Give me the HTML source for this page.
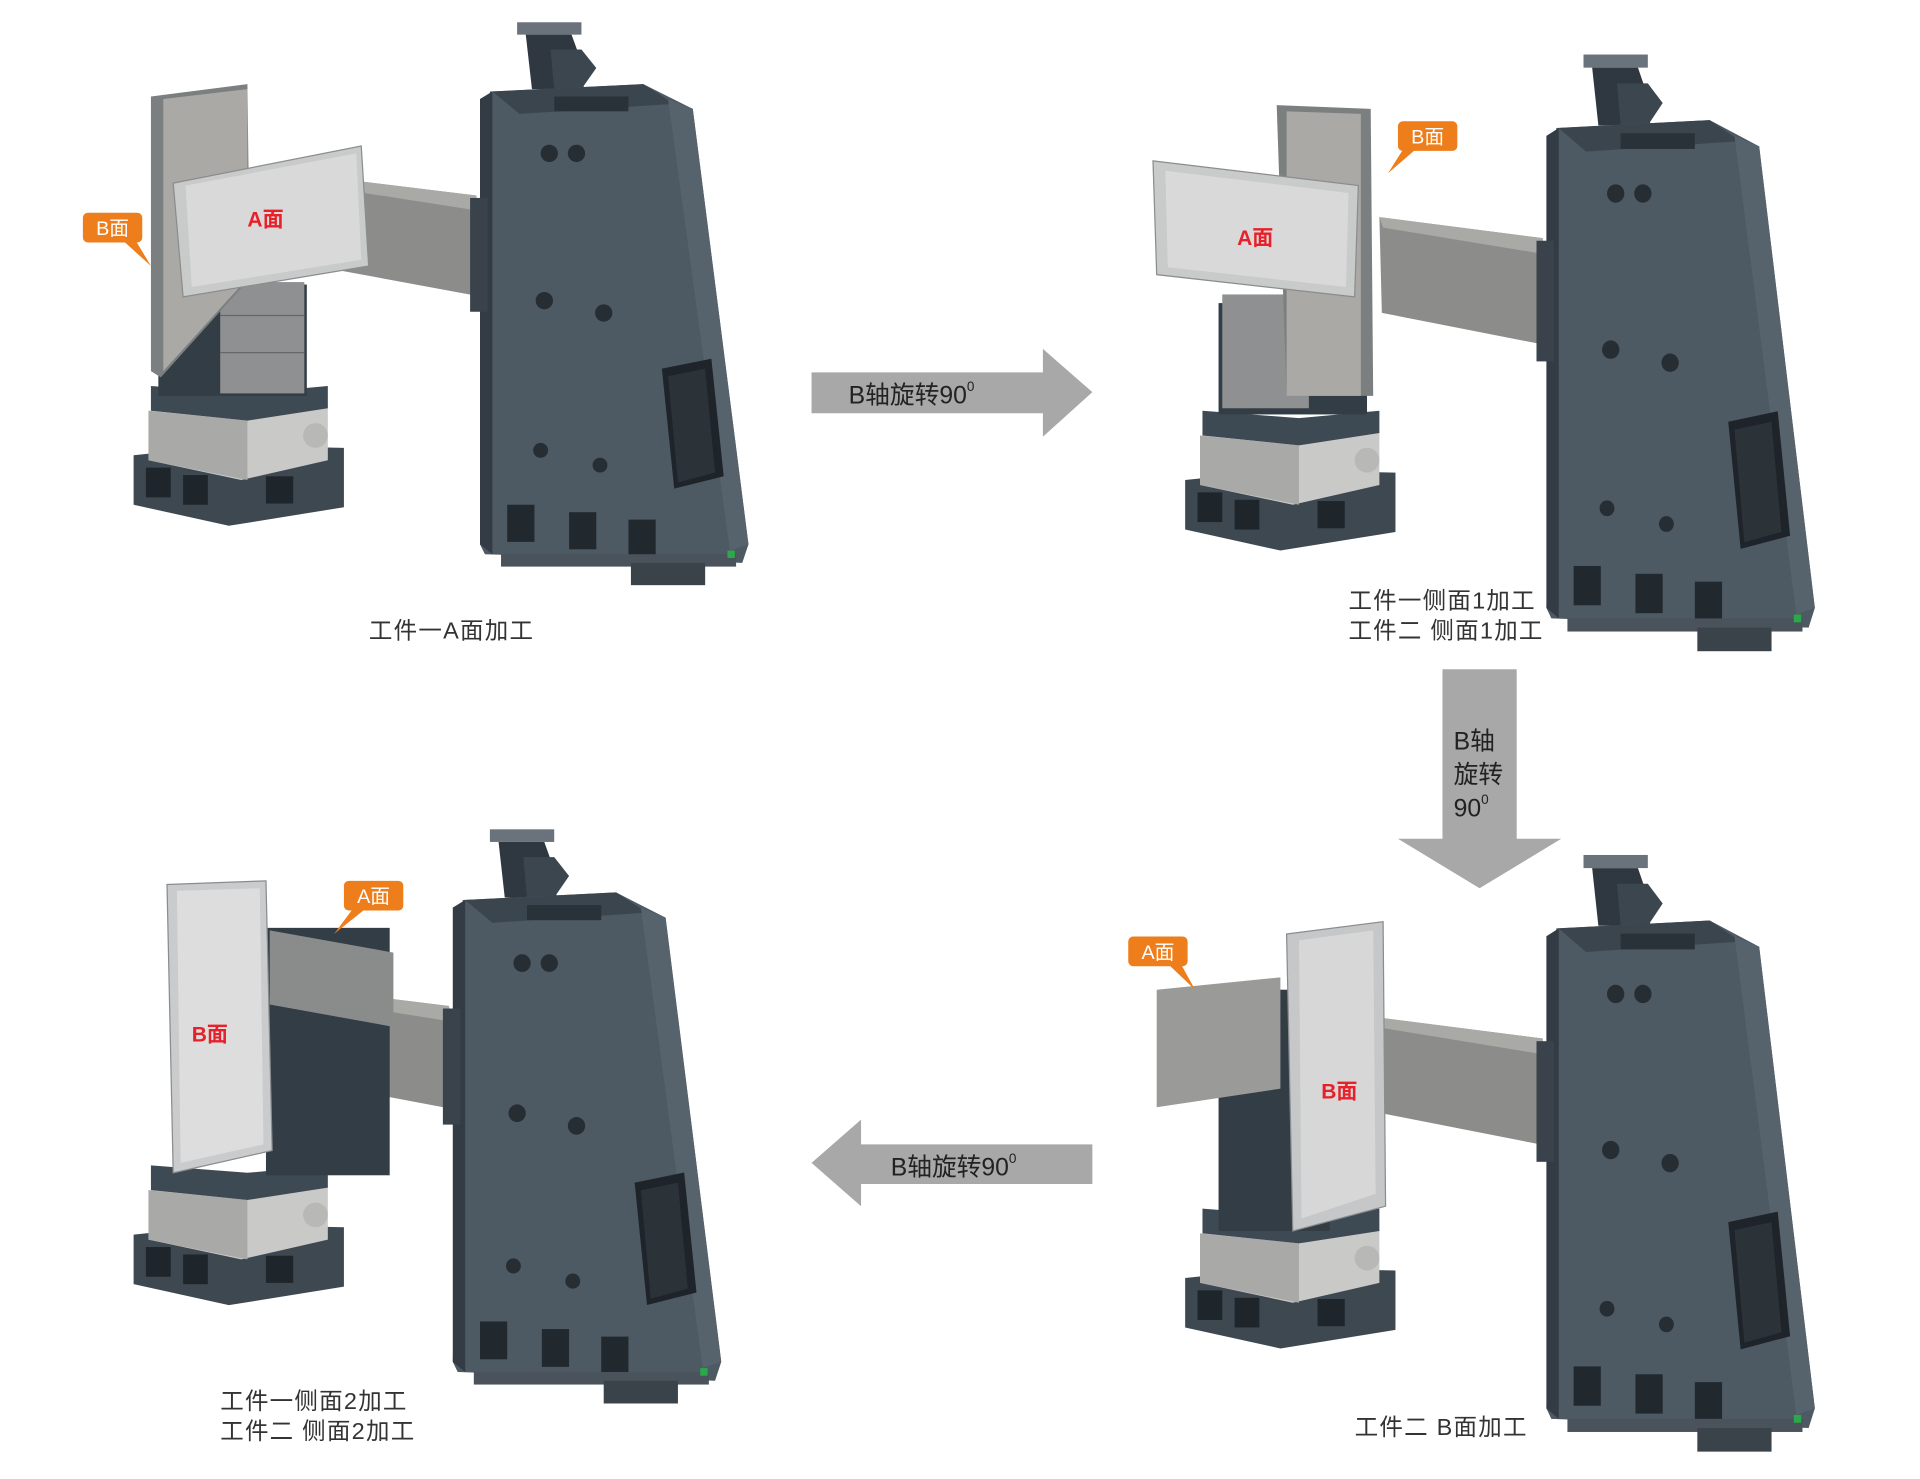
<!DOCTYPE html>
<html><head><meta charset="utf-8"><style>
html,body{margin:0;padding:0;background:#fff;}
svg{display:block}
text{font-family:"Liberation Sans","Noto Sans CJK SC",sans-serif;}
</style></head><body>
<svg width="1920" height="1479" viewBox="0 0 1552 1195.5" preserveAspectRatio="none" xmlns="http://www.w3.org/2000/svg">
<defs>
<g id="col">
  <!-- top block -->
  <rect x="418" y="18" width="52" height="10" fill="#6a737b"/>
  <polygon points="425,28 462,28 470,50 472,72 430,72" fill="#2f3840"/>
  <polygon points="445,40 470,40 482,55 470,72 448,72" fill="#3c464f"/>
  <!-- main body -->
  <polygon points="396,74 520,68 560,88 605,440 600,455 392,448 388,440" fill="#4d5963"/>
  <polygon points="388,80 398,74 398,448 388,440" fill="#333c44"/>
  <polygon points="398,74 520,68 545,84 420,92" fill="#3b454e"/>
  <rect x="448" y="78" width="60" height="12" fill="#2a3239"/>
  <polygon points="540,80 560,88 605,440 590,445" fill="#56626c"/>
  <!-- holes -->
  <circle cx="444" cy="124" r="7" fill="#262d33"/><circle cx="466" cy="124" r="7" fill="#262d33"/>
  <circle cx="440" cy="243" r="7" fill="#262d33"/><circle cx="488" cy="253" r="7" fill="#262d33"/>
  <circle cx="437" cy="364" r="6" fill="#262d33"/><circle cx="485" cy="376" r="6" fill="#262d33"/>
  <!-- window -->
  <polygon points="535,298 575,290 585,385 545,395" fill="#1e2429"/>
  <polygon points="540,304 570,298 578,382 548,390" fill="#2b3238"/>
  <!-- feet -->
  <rect x="410" y="408" width="22" height="30" fill="#22292e"/>
  <rect x="460" y="414" width="22" height="30" fill="#22292e"/>
  <rect x="508" y="420" width="22" height="30" fill="#22292e"/>
  <rect x="405" y="448" width="190" height="10" fill="#4a535b"/>
  <rect x="510" y="455" width="60" height="18" fill="#3b434a"/>
  <rect x="588" y="445" width="6" height="6" fill="#2aa84a"/>
  <!-- beam -->
  <polygon points="253,142 385,158 390,240 255,215" fill="#8c8c8a"/>
  <polygon points="253,142 385,158 385,170 256,150" fill="#a9a9a6"/>
  <rect x="380" y="160" width="14" height="92" fill="#3a434b"/>
</g>
<g id="base">
  <polygon points="108,368 185,360 278,362 278,410 185,425 108,408" fill="#3d4850"/>
  <rect x="118" y="378" width="20" height="24" fill="#1f262b"/><rect x="148" y="384" width="20" height="24" fill="#1f262b"/><rect x="215" y="385" width="22" height="22" fill="#1f262b"/>
  <polygon points="120,332 200,340 265,328 265,372 195,388 120,372" fill="#c9cac8"/>
  <polygon points="120,332 200,340 200,388 120,372" fill="#a9aaa8"/>
  <polygon points="122,312 200,318 265,312 265,330 200,340 122,332" fill="#3e4a53"/>
  <circle cx="255" cy="352" r="10" fill="#b8b9b7"/>
</g>
<g id="callout">
  <rect x="0" y="0" width="48" height="24" rx="4" fill="#ee7d1b"/>
</g>
</defs>

<!-- ===== Machine 1 ===== -->
<use href="#col"/>
<use href="#base"/>
<rect x="128" y="230" width="120" height="90" fill="#333d45"/>
<rect x="178" y="228" width="68" height="90" fill="#8e9091"/>
<line x1="178" y1="255" x2="246" y2="255" stroke="#666" /><line x1="178" y1="285" x2="246" y2="285" stroke="#666"/>
<polygon points="122,78 200,68 202,225 130,305 122,300" fill="#7c7f80"/>
<polygon points="132,80 200,72 200,225 132,300" fill="#aaa9a5"/>
<polygon points="140,148 292,118 298,215 148,240" fill="#c9cbcb" stroke="#8a8c8e"/>
<polygon points="150,150 288,124 292,210 155,232" fill="#d8d9d8"/>
<text x="200" y="183" font-size="17" font-weight="bold" fill="#e8202a">A面</text>
<rect x="67" y="172" width="48" height="24" rx="4" fill="#ee7d1b"/>
<polygon points="100,195 110,195 122,215" fill="#ee7d1b"/>
<text x="91" y="190" font-size="16" fill="#fff" text-anchor="middle">B面</text>
<text x="365" y="516" font-size="19" fill="#333" text-anchor="middle" letter-spacing="1">工件一A面加工</text>

<!-- Arrow 1 -->
<polygon points="656,301 843,301 843,282 883,317 843,353 843,334 656,334" fill="#a8a8a8"/>
<text x="686" y="326" font-size="20" fill="#222">B轴旋转90<tspan font-size="11" dy="-10">0</tspan></text>

<!-- ===== Machine 2 ===== -->
<g transform="translate(862,25) scale(1,1.06)"><use href="#col"/></g>
<g transform="translate(850,20)"><use href="#base"/></g>
<rect x="985" y="245" width="120" height="90" fill="#333d45"/>
<rect x="988" y="238" width="70" height="92" fill="#8e9091"/>
<polygon points="1032,85 1108,88 1110,320 1040,320" fill="#7c7f80"/>
<polygon points="1040,90 1100,92 1100,320 1040,320" fill="#aaa9a5"/>
<polygon points="932,130 1098,150 1095,240 935,222" fill="#c9cbcb" stroke="#8a8c8e"/>
<polygon points="942,138 1090,156 1088,232 944,216" fill="#d8d9d8"/>
<text x="1000" y="198" font-size="17" font-weight="bold" fill="#e8202a">A面</text>
<rect x="1130" y="98" width="48" height="24" rx="4" fill="#ee7d1b"/>
<polygon points="1134,121 1144,121 1122,140" fill="#ee7d1b"/>
<text x="1154" y="116" font-size="16" fill="#fff" text-anchor="middle">B面</text>
<text x="1090" y="492" font-size="19" fill="#333" letter-spacing="1">工件一侧面1加工</text>
<text x="1090" y="516" font-size="19" fill="#333" letter-spacing="1">工件二 侧面1加工</text>

<!-- Down arrow -->
<polygon points="1166,541 1226,541 1226,678 1262,678 1196,718 1130,678 1166,678" fill="#a8a8a8"/>
<text x="1175" y="606" font-size="20" fill="#222">B轴</text>
<text x="1175" y="633" font-size="20" fill="#222">旋转</text>
<text x="1175" y="660" font-size="20" fill="#222">90<tspan font-size="11" dy="-10">0</tspan></text>

<!-- ===== Machine 3 (bottom right) ===== -->
<g transform="translate(862,672) scale(1,1.06)"><use href="#col"/></g>
<g transform="translate(850,665)"><use href="#base"/></g>
<rect x="985" y="800" width="90" height="195" fill="#333d45"/>
<polygon points="935,800 1035,790 1035,880 935,895" fill="#9a9b99"/>
<polygon points="1040,755 1118,745 1120,975 1045,995" fill="#c5c7c8" stroke="#8a8c8e"/>
<polygon points="1050,760 1110,752 1112,965 1052,985" fill="#d6d7d6"/>
<text x="1068" y="888" font-size="17" font-weight="bold" fill="#e8202a">B面</text>
<rect x="912" y="757" width="48" height="24" rx="4" fill="#ee7d1b"/>
<polygon points="945,780 955,780 966,800" fill="#ee7d1b"/>
<text x="936" y="775" font-size="16" fill="#fff" text-anchor="middle">A面</text>
<text x="1095" y="1160" font-size="19" fill="#333" letter-spacing="1">工件二 B面加工</text>

<!-- Left arrow -->
<polygon points="883,925 696,925 696,905 656,940 696,975 696,957 883,957" fill="#a8a8a8"/>
<text x="720" y="950" font-size="20" fill="#222">B轴旋转90<tspan font-size="11" dy="-10">0</tspan></text>

<!-- ===== Machine 4 (bottom left) ===== -->
<g transform="translate(-22,652) scale(1,1.02)"><use href="#col"/></g>
<g transform="translate(0,630)"><use href="#base"/></g>
<rect x="215" y="750" width="100" height="200" fill="#333d45"/>
<polygon points="218,752 318,770 318,830 218,812" fill="#8a8c8c"/>
<polygon points="135,715 215,712 220,930 140,948" fill="#c9cbcc" stroke="#8a8c8e"/>
<polygon points="143,720 210,718 213,925 146,940" fill="#dcdddc"/>
<text x="155" y="842" font-size="17" font-weight="bold" fill="#e8202a">B面</text>
<rect x="278" y="712" width="48" height="24" rx="4" fill="#ee7d1b"/>
<polygon points="285,735 295,735 270,755" fill="#ee7d1b"/>
<text x="302" y="730" font-size="16" fill="#fff" text-anchor="middle">A面</text>
<text x="178" y="1139" font-size="19" fill="#333" letter-spacing="1">工件一侧面2加工</text>
<text x="178" y="1163" font-size="19" fill="#333" letter-spacing="1">工件二 侧面2加工</text>
</svg>
</body></html>
